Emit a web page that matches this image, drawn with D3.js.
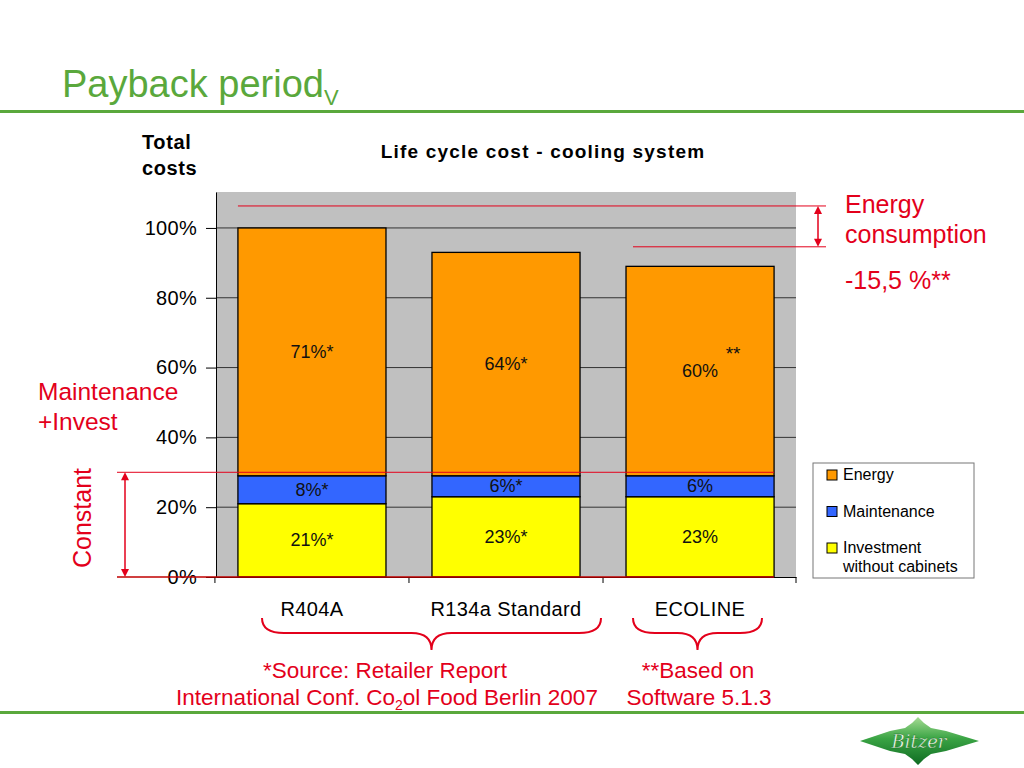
<!DOCTYPE html>
<html>
<head>
<meta charset="utf-8">
<script src="https://cdn.jsdelivr.net/npm/d3@7"></script>
<style>
  body { margin: 0; background: #fff; }
  svg { display: block; font-family: "Liberation Sans", Arial, sans-serif; }
</style>
</head>
<body>
<svg id="chart" width="1024" height="768"></svg>
<script>
// chart values
var categories = ["R404A", "R134a Standard", "ECOLINE"];
var investment = [21, 23, 23];
var maintenance = [8, 6, 6];
var energy = [71, 64, 60];
var investLabels = ["21%*", "23%*", "23%"];
var maintLabels = ["8%*", "6%*", "6%"];
var energyLabels = ["71%*", "64%*", "60%"];
var yTicks = [0, 20, 40, 60, 80, 100];
var seriesKeys = ["energy", "maintenance", "investment"];
var seriesNames = [["Energy"], ["Maintenance"], ["Investment", "without cabinets"]];

var green = "#5aa83c", red = "#e3001b";
var colors = {investment: "#ffff00", maintenance: "#3366ff", energy: "#ff9900"};

var svg = d3.select("#chart");

// slide title + rules
var title = svg.append("text").attr("x", 62).attr("y", 97)
    .attr("fill", green).style("font-size", "38px").text("Payback period");
title.append("tspan").attr("dy", 8).style("font-size", "22px").text("V");

svg.append("rect").attr("x", 0).attr("y", 110).attr("width", 1024).attr("height", 3).attr("fill", green);
svg.append("rect").attr("x", 0).attr("y", 711).attr("width", 1024).attr("height", 3).attr("fill", green);

// chart geometry
var margin = {left: 216, right: 796, top: 192, bottom: 577};
var x = d3.scaleBand().domain(categories).range([margin.left, margin.right])
    .paddingInner(0.237).paddingOuter(0.113);
var y = d3.scaleLinear().domain([0, 110.3]).range([margin.bottom, margin.top]);

svg.append("text").attr("x", 142).attr("y", 149).style("font-size", "20px").style("font-weight", "bold")
    .style("letter-spacing", "0.6px").text("Total");
svg.append("text").attr("x", 142).attr("y", 175).style("font-size", "20px").style("font-weight", "bold")
    .style("letter-spacing", "0.6px").text("costs");
svg.append("text").attr("x", 543).attr("y", 158).attr("text-anchor", "middle")
    .style("font-size", "19px").style("font-weight", "bold").style("letter-spacing", "1.2px")
    .text("Life cycle cost - cooling system");

// plot background
svg.append("rect").attr("x", margin.left).attr("y", margin.top)
    .attr("width", margin.right - margin.left).attr("height", margin.bottom - margin.top)
    .attr("fill", "#c0c0c0");

// gridlines
svg.append("g").selectAll("line").data(yTicks.slice(1)).enter().append("line")
    .attr("x1", margin.left).attr("x2", margin.right)
    .attr("y1", function(d) { return y(d); }).attr("y2", function(d) { return y(d); })
    .attr("stroke", "#333").attr("stroke-width", 1);

// y axis
var yAxis = svg.append("g").attr("transform", "translate(" + margin.left + ",0)")
    .call(d3.axisLeft(y).tickValues(yTicks).tickFormat(function(d) { return d + "%"; })
        .tickSize(10).tickSizeOuter(0).tickPadding(9));
yAxis.selectAll("text").style("font-size", "20px").style("letter-spacing", "0.3px").attr("fill", "#000")
    .style("font-family", "Liberation Sans, Arial, sans-serif");
yAxis.selectAll("line, path").attr("stroke", "#000");

// x axis
var xAxis = svg.append("g").attr("transform", "translate(0," + margin.bottom + ")")
    .call(d3.axisBottom(x).tickSize(0).tickPadding(25));
xAxis.select(".domain").attr("stroke", "#000");
xAxis.selectAll("text").style("font-size", "20px").style("letter-spacing", "0.4px").attr("fill", "#000")
    .style("font-family", "Liberation Sans, Arial, sans-serif");
var gap = x.step() - x.bandwidth();
var bounds = categories.map(function(c) { return x(c) - gap / 2; }).concat([margin.right]);
svg.append("g").selectAll("line").data(bounds).enter().append("line")
    .attr("x1", function(d) { return d; }).attr("x2", function(d) { return d; })
    .attr("y1", margin.bottom).attr("y2", margin.bottom + 6).attr("stroke", "#000");

// stacked bars
var rows = categories.map(function(c, i) {
    return {cat: c, investment: investment[i], maintenance: maintenance[i], energy: energy[i], i: i};
});
var stack = d3.stack().keys(["investment", "maintenance", "energy"])(rows);
var labelSets = {investment: investLabels, maintenance: maintLabels, energy: energyLabels};

var layers = svg.append("g").selectAll("g").data(stack).enter().append("g")
    .attr("fill", function(d) { return colors[d.key]; });
layers.selectAll("rect").data(function(d) { return d; }).enter().append("rect")
    .attr("x", function(d) { return x(d.data.cat); })
    .attr("width", x.bandwidth())
    .attr("y", function(d) { return y(d[1]); })
    .attr("height", function(d) { return y(d[0]) - y(d[1]); })
    .attr("stroke", "#000").attr("stroke-width", 1.3);

layers.each(function(layer) {
    d3.select(this).selectAll("text").data(layer).enter().append("text")
        .attr("x", function(d) { return x(d.data.cat) + x.bandwidth() / 2; })
        .attr("y", function(d) { return (y(d[0]) + y(d[1])) / 2 + 6; })
        .attr("text-anchor", "middle").attr("fill", "#111").style("font-size", "18px")
        .text(function(d) { return labelSets[layer.key][d.data.i]; });
});
// ECOLINE software note
var eco = stack[2][2];
svg.append("text").attr("x", x("ECOLINE") + x.bandwidth() / 2 + 33)
    .attr("y", (y(eco[0]) + y(eco[1])) / 2 - 11).attr("text-anchor", "middle")
    .style("font-size", "19px").attr("fill", "#111").text("**");

// legend
var lg = svg.append("g").attr("transform", "translate(813,463)");
lg.append("rect").attr("width", 161).attr("height", 115).attr("fill", "#fff").attr("stroke", "#777");
var items = lg.selectAll("g").data(seriesKeys).enter().append("g")
    .attr("transform", function(d, i) { return "translate(14," + (7 + i * 36.5) + ")"; });
items.append("rect").attr("width", 10).attr("height", 10)
    .attr("fill", function(d) { return colors[d]; }).attr("stroke", "#000");
items.each(function(d, i) {
    d3.select(this).selectAll("text").data(seriesNames[i]).enter().append("text")
        .attr("x", 16).attr("y", function(t, j) { return 10 + j * 19; })
        .style("font-size", "16px").attr("fill", "#000").text(function(t) { return t; });
});

// red annotations
var ann = svg.append("g").attr("stroke", red).attr("fill", "none");
function arrow(g, xx, y1, y2) {
    g.append("line").attr("x1", xx).attr("x2", xx).attr("y1", y1 + 6).attr("y2", y2 - 6).attr("stroke-width", 1.5);
    g.append("path").attr("d", "M" + xx + "," + y1 + "l-4,8h8z").attr("fill", red).attr("stroke", "none");
    g.append("path").attr("d", "M" + xx + "," + y2 + "l-4,-8h8z").attr("fill", red).attr("stroke", "none");
}
var topLine = y(106.3), lowLine = y(94.6), constLine = y(30);
ann.append("line").attr("x1", x("R404A")).attr("x2", 826).attr("y1", topLine).attr("y2", topLine);
ann.append("line").attr("x1", 633).attr("x2", 826).attr("y1", lowLine).attr("y2", lowLine);
arrow(ann, 818, topLine, lowLine);
var barEnd = x("ECOLINE") + x.bandwidth();
ann.append("line").attr("x1", 117).attr("x2", barEnd).attr("y1", constLine).attr("y2", constLine);
ann.append("line").attr("x1", 117).attr("x2", barEnd).attr("y1", y(0)).attr("y2", y(0)).attr("stroke", "#c00000").attr("stroke-width", 1.5);
arrow(ann, 125, constLine, y(0));

var rt = svg.append("g").attr("fill", red).style("font-size", "25px");
rt.append("text").attr("x", 845).attr("y", 213).text("Energy");
rt.append("text").attr("x", 845).attr("y", 243).text("consumption");
rt.append("text").attr("x", 845).attr("y", 289).text("-15,5 %**");
rt.append("text").attr("x", 38).attr("y", 400).style("font-size", "24.5px").text("Maintenance");
rt.append("text").attr("x", 38).attr("y", 430).style("font-size", "24.5px").text("+Invest");
rt.append("text").attr("transform", "translate(91,518) rotate(-90)").attr("text-anchor", "middle").text("Constant");

// braces
function brace(x1, x2, top) {
    var m = (x1 + x2) / 2, b = top + 15, t = top + 32;
    return "M" + x1 + "," + top + "Q" + x1 + "," + b + " " + (x1 + 22) + "," + b +
        "L" + (m - 20) + "," + b + "Q" + m + "," + b + " " + m + "," + t +
        "Q" + m + "," + b + " " + (m + 20) + "," + b +
        "L" + (x2 - 22) + "," + b + "Q" + x2 + "," + b + " " + x2 + "," + top;
}
svg.append("path").attr("d", brace(262, 601, 618)).attr("fill", "none").attr("stroke", red).attr("stroke-width", 2);
svg.append("path").attr("d", brace(633, 762, 618)).attr("fill", "none").attr("stroke", red).attr("stroke-width", 2);

var ft = svg.append("g").attr("fill", red).attr("text-anchor", "middle").style("font-size", "22.5px");
ft.append("text").attr("x", 385).attr("y", 678).text("*Source: Retailer Report");
var co = ft.append("text").attr("x", 387).attr("y", 705);
co.append("tspan").text("International Conf. Co");
co.append("tspan").attr("dy", 5).style("font-size", "14px").text("2");
co.append("tspan").attr("dy", -5).text("ol Food Berlin 2007");
ft.append("text").attr("x", 698).attr("y", 678).text("**Based on");
ft.append("text").attr("x", 699).attr("y", 705).text("Software 5.1.3");

// logo
var defs = svg.append("defs");
var grad = defs.append("linearGradient").attr("id", "lg").attr("x1", 0).attr("y1", 0).attr("x2", 0).attr("y2", 1);
grad.append("stop").attr("offset", "0%").attr("stop-color", "#a6dc94");
grad.append("stop").attr("offset", "45%").attr("stop-color", "#3aa444");
grad.append("stop").attr("offset", "100%").attr("stop-color", "#0f6b22");
var logo = [[860, 741], [890, 731], [905, 728], [912, 723], [918, 717], [924, 723], [931, 728], [946, 731], [979, 741],
    [946, 751], [931, 754], [924, 759], [918, 765], [912, 759], [905, 754], [890, 751]];
svg.append("path").attr("d", d3.line()(logo) + "Z").attr("fill", "url(#lg)");
svg.append("text").attr("x", 919).attr("y", 748).attr("text-anchor", "middle")
    .style("font-family", "DejaVu Serif, serif").style("font-style", "italic").style("font-size", "18px")
    .attr("fill", "#f4fff0").attr("stroke", "#1d6f28").attr("stroke-width", 0.4).text("Bitzer");
</script>
</body>
</html>
